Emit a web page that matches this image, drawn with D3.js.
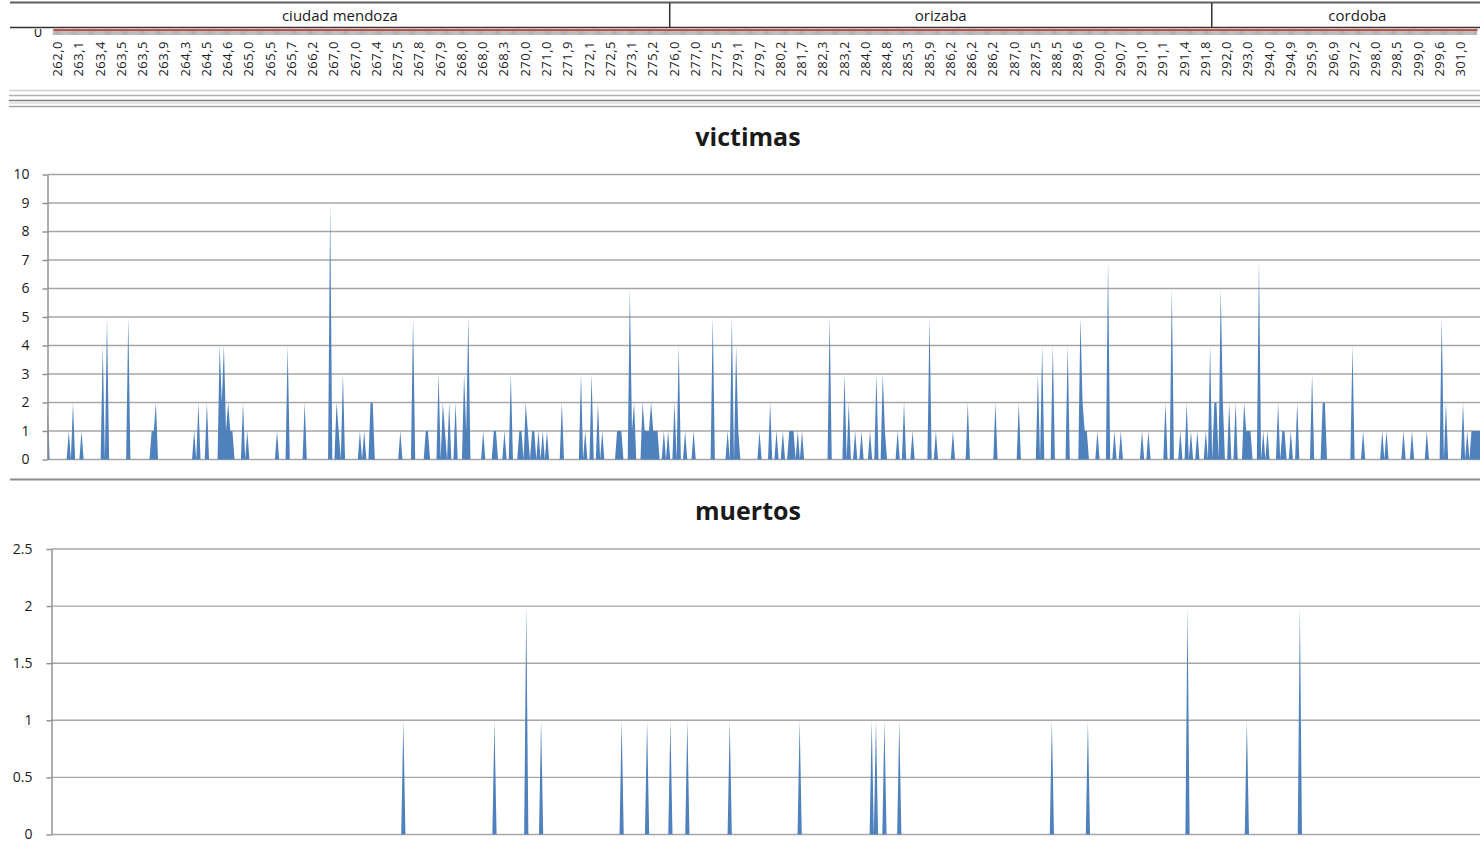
<!DOCTYPE html>
<html>
<head>
<meta charset="utf-8">
<title>victimas y muertos</title>
<script src="https://cdn.jsdelivr.net/npm/d3@7"></script>
<style>
  body { margin: 0; background: #fff; }
  text { font-family: "Open Sans", sans-serif; fill: #1a1a1a; }
</style>
</head>
<body>
<svg id="chart" width="1480" height="847"></svg>
<script>
var nCats = 675;
var labelEvery = 10;
var tickLabels = ["262,0","263,1","263,4","263,5","263,5","263,9","264,3","264,5","264,6","265,0",
  "265,5","265,7","266,2","267,0","267,0","267,4","267,5","267,8","267,9","268,0",
  "268,0","268,3","270,0","271,0","271,9","272,1","272,5","273,1","275,2","276,0",
  "277,0","277,5","279,1","279,7","280,2","281,7","282,3","283,2","284,0","284,8",
  "285,3","285,9","286,2","286,2","286,2","287,0","287,5","288,5","289,6","290,0",
  "290,7","291,0","291,1","291,4","291,8","292,0","293,0","294,0","294,9","295,9",
  "296,9","297,2","298,0","298,5","299,0","299,6","301,0"];
var regionNames = ["ciudad mendoza", "orizaba", "cordoba"];
var regionStart = [0, 288, 543];

// [category, value] -- every other category is 0
var victimasPeaks = [[0,2],[10,1],[12,2],[16,1],[26,4],[28,5],[38,5],[49,1],[50,1],[51,2],
  [69,1],[71,2],[75,2],[81,4],[82,2],[83,4],[84,1],[85,2],[86,1],[87,1],[92,2],[94,1],
  [108,1],[113,4],[121,2],[133,9],[136,2],[137,1],[139,3],[147,1],[149,1],[152,2],[153,2],
  [166,1],[172,5],[178,1],[179,1],[184,3],[186,2],[187,1],[189,2],[192,2],[196,3],[197,1],[198,5],
  [205,1],[210,1],[211,1],[215,1],[218,3],[222,1],[223,1],[225,2],[226,1],[228,1],[229,1],
  [231,1],[233,1],[235,1],[242,2],[251,3],[253,1],[256,3],[259,2],[261,1],[268,1],[269,1],[270,1],
  [274,6],[275,1],[276,2],[280,2],[281,1],[282,1],[283,1],[284,2],[285,1],[286,1],[287,1],
  [290,1],[292,1],[295,2],[297,4],[300,1],[304,1],[313,5],[320,1],[322,5],[324,4],[325,1],
  [335,1],[340,2],[343,1],[346,1],[349,1],[350,1],[351,1],[353,1],[355,1],[368,5],
  [375,3],[377,2],[380,1],[383,1],[387,1],[390,3],[393,3],[394,1],[400,1],[403,2],[407,1],
  [415,5],[418,1],[426,1],[433,2],[446,2],[457,2],[466,3],[468,4],[473,4],[480,4],
  [486,5],[487,2],[488,1],[489,1],[494,1],[499,7],[502,1],[505,1],[515,1],[518,1],
  [526,2],[529,6],[533,1],[536,2],[538,1],[541,1],[545,1],[547,4],[549,2],[550,2],[552,6],[553,2],
  [556,2],[559,2],[563,2],[564,1],[565,1],[566,1],[570,7],[572,1],[574,1],[579,2],[581,1],[582,1],
  [585,1],[588,2],[595,3],[600,2],[601,2],[614,4],[619,1],[628,1],[630,1],[638,1],[642,1],
  [649,1],[656,5],[658,2],[666,2],[668,1],[670,1],[671,1],[672,1],[673,1],[674,1]];
var muertosPeaks = [[166,1],[209,1],[224,2],[231,1],[269,1],[281,1],[292,1],[300,1],[320,1],
  [353,1],[387,1],[389,1],[393,1],[400,1],[472,1],[489,1],[536,2],[564,1],[589,2]];

var victimasTicks = [0,1,2,3,4,5,6,7,8,9,10];
var muertosTicks = [0,0.5,1,1.5,2,2.5];

function expand(peaks) {
  var a = d3.range(nCats).map(function() { return 0; });
  peaks.forEach(function(p) { a[p[0]] = p[1]; });
  return a;
}
var victimas = expand(victimasPeaks);
var muertos = expand(muertosPeaks);

var svg = d3.select("#chart");
var blue = "#4f81bd", gridColor = "#a6a6a6", axisColor = "#8c8c8c";

function hline(y, x1, x2, color, w) {
  svg.append("line").attr("x1", x1).attr("x2", x2).attr("y1", y).attr("y2", y)
    .attr("stroke", color).attr("stroke-width", w);
}

// ---- top strip: region boxes + category axis
var xTop = d3.scaleLinear().domain([0, (tickLabels.length - 1) * labelEvery]).range([57.5, 1460.5]);

svg.append("text").attr("x", 38).attr("y", 36.5).attr("text-anchor", "middle")
  .style("font-size", "14px").text("0");
svg.append("rect").attr("x", 0).attr("y", 0).attr("width", 1480).attr("height", 29).attr("fill", "#fff");

hline(2.5, 10, 1480, "#5f5f5f", 2);
var regionEdges = regionStart.map(function(s, i) { return i === 0 ? 10 : xTop(s); });
regionEdges.push(xTop(nCats + 5));
svg.selectAll(".region").data(regionNames).enter().append("text")
  .attr("x", function(d, i) { return (regionEdges[i] + regionEdges[i + 1]) / 2; })
  .attr("y", 21).attr("text-anchor", "middle").style("font-size", "15px")
  .text(function(d) { return d; });
svg.selectAll(".divider").data(regionEdges.slice(1, -1)).enter().append("line")
  .attr("x1", function(d) { return d; }).attr("x2", function(d) { return d; })
  .attr("y1", 3).attr("y2", 27.5).attr("stroke", "#333").attr("stroke-width", 1.5);
hline(27.5, 10, 1480, "#333", 1.5);

svg.append("g").selectAll("line").data(d3.range(-2, nCats - 7, 0.5)).enter().append("line")
  .attr("x1", function(d) { return xTop(d); }).attr("x2", function(d) { return xTop(d); })
  .attr("y1", 31).attr("y2", 35).attr("stroke", "#8a8a8a").attr("stroke-width", 0.7);
hline(30, xTop(-2), xTop(nCats - 7), "#c0504d", 2);

svg.append("g").selectAll("text").data(tickLabels).enter().append("text")
  .attr("transform", function(d, i) { return "translate(" + xTop(i * labelEvery) + ",41) rotate(-90)"; })
  .attr("text-anchor", "end").attr("dy", "0.35em")
  .style("font-size", "13px").style("letter-spacing", "0.5px")
  .text(function(d) { return d; });

hline(90.5, 9, 1480, "#cfcfcf", 1.5);
hline(95.5, 9, 1480, "#b0b0b0", 1.5);
hline(100.5, 9, 1480, "#7f7f7f", 1.5);
hline(103, 9, 1480, "#cfcfcf", 1);
hline(106.5, 9, 1480, "#a3a3a3", 1.5);

// ---- area panels
function panel(opt) {
  var x = d3.scaleLinear().domain([0, nCats - 1]).range([opt.left, 1480]);
  var y = d3.scaleLinear().domain([0, opt.max]).range([opt.bottom, opt.top]);
  var g = svg.append("g");

  g.append("text").attr("x", 748).attr("y", opt.titleY).attr("text-anchor", "middle")
    .style("font-size", "25px").style("font-weight", "bold").text(opt.title);

  g.selectAll(".grid").data(opt.ticks).enter().append("line")
    .attr("x1", opt.left).attr("x2", 1480)
    .attr("y1", function(d) { return y(d); }).attr("y2", function(d) { return y(d); })
    .attr("stroke", gridColor).attr("stroke-width", 1.4);

  var area = d3.area()
    .x(function(d, i) { return x(i); })
    .y0(y(0))
    .y1(function(d) { return y(d); });
  g.append("path").datum(opt.values).attr("d", area).attr("fill", blue);

  var ax = g.append("g").attr("transform", "translate(" + opt.left + ",0)")
    .call(d3.axisLeft(y).tickValues(opt.ticks).tickSize(5).tickSizeOuter(0)
      .tickPadding(opt.pad).tickFormat(d3.format("~g")));
  ax.select(".domain").attr("stroke", axisColor).attr("stroke-width", 1.4);
  ax.selectAll(".tick line").attr("stroke", axisColor).attr("stroke-width", 1.4);
  ax.selectAll(".tick text").style("font-size", "14px").style("font-family", "'Open Sans', sans-serif")
    .attr("fill", "#1a1a1a");
}

panel({ title: "victimas", titleY: 146, values: victimas, max: 10, ticks: victimasTicks,
  left: 47.5, top: 174.5, bottom: 459.5, pad: 13 });

hline(479.5, 10, 1480, "#8c8c8c", 2);

panel({ title: "muertos", titleY: 520, values: muertos, max: 2.5, ticks: muertosTicks,
  left: 51.5, top: 549, bottom: 834.5, pad: 14 });
</script>
</body>
</html>
